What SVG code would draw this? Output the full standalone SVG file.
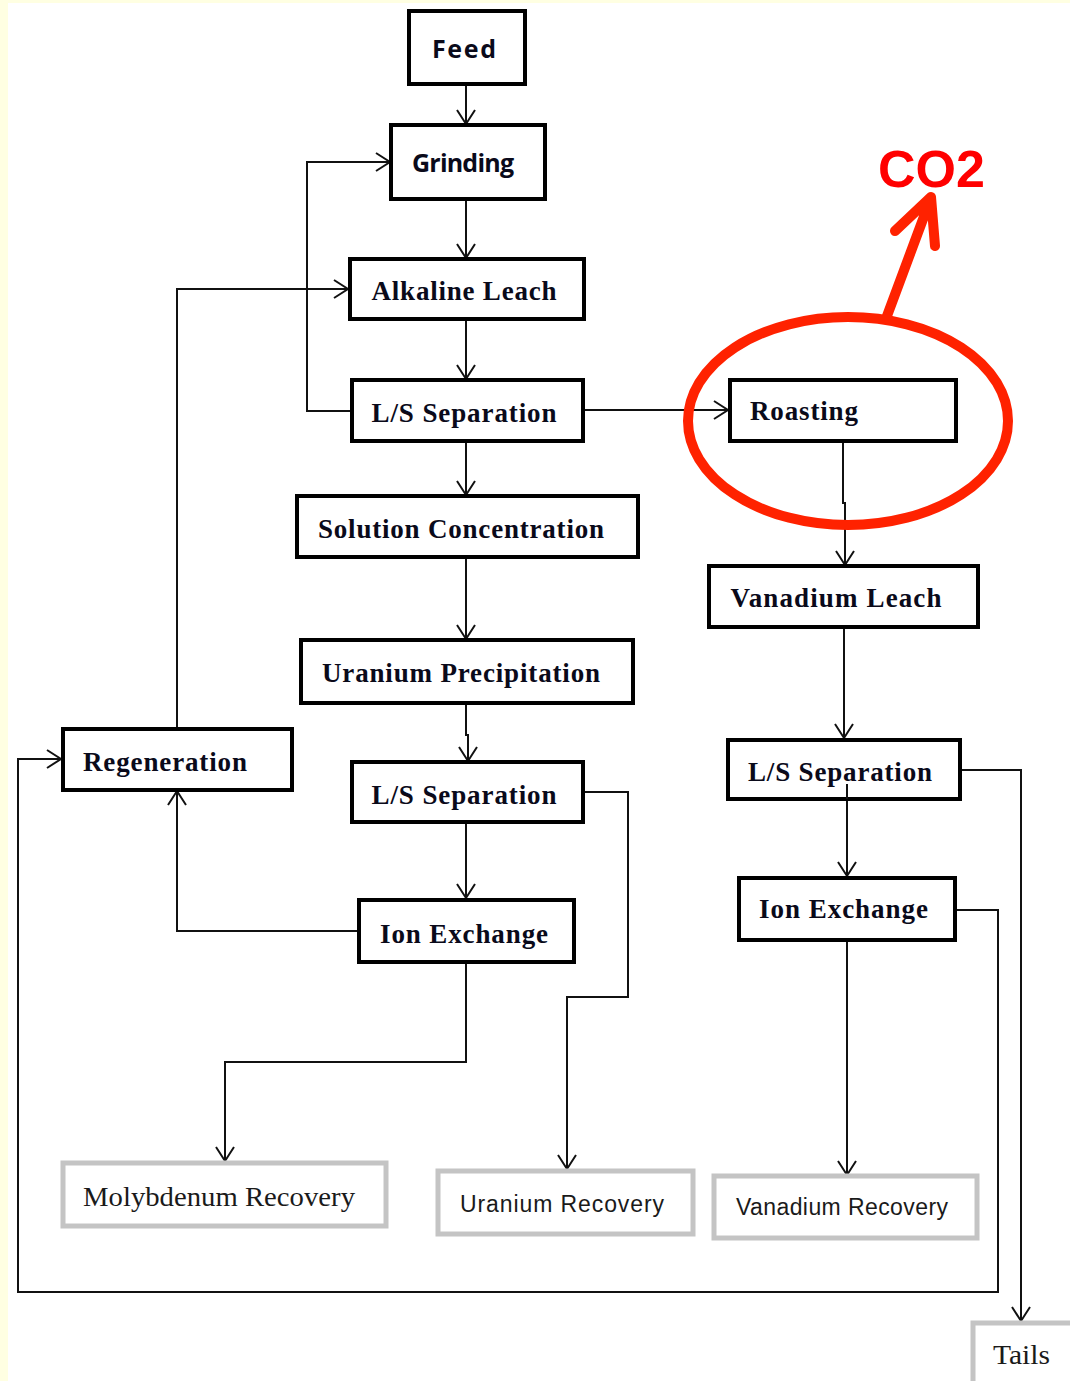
<svg xmlns="http://www.w3.org/2000/svg" width="1070" height="1381" viewBox="0 0 1070 1381">
<style>
.box{fill:#fff;stroke:#000;stroke-width:4}
.rec{fill:#fff;stroke:#c4c4c4;stroke-width:5}
.sb{font-family:"Open Sans","Liberation Sans",sans-serif;font-weight:bold;font-size:25px;fill:#0a0a1a}
.tb{font-family:"Liberation Serif",serif;font-weight:bold;font-size:27px;fill:#0a0a1a}
.tr{font-family:"Liberation Serif",serif;font-size:28px;fill:#1a1a1a}
.sr{font-family:"Liberation Sans",sans-serif;font-size:23px;fill:#1a1a1a}
.ln{fill:none;stroke:#111;stroke-width:2}
</style>
<defs>
<marker id="ah" markerUnits="userSpaceOnUse" markerWidth="16" markerHeight="20" refX="14" refY="9" orient="auto" overflow="visible">
<path d="M0,0 L14,9 L0,18" fill="none" stroke="#111" stroke-width="2"/>
</marker>
</defs>
<rect x="0" y="0" width="1070" height="1381" fill="#ffffe2"/>
<rect x="8" y="3" width="1062" height="1378" fill="#fff"/>

<g id="connectors">
<path class="ln" marker-end="url(#ah)" d="M466,84 V124"/>
<path class="ln" marker-end="url(#ah)" d="M466,199 V258"/>
<path class="ln" marker-end="url(#ah)" d="M466,319 V379"/>
<path class="ln" marker-end="url(#ah)" d="M351,411 H307 V162 H390"/>
<path class="ln" marker-end="url(#ah)" d="M177,729 V289 H348"/>
<path class="ln" marker-end="url(#ah)" d="M583,410 H728"/>
<path class="ln" marker-end="url(#ah)" d="M466,441 V495"/>
<path class="ln" marker-end="url(#ah)" d="M466,557 V639"/>
<path class="ln" marker-end="url(#ah)" d="M466,703 V735 H468 V761"/>
<path class="ln" marker-end="url(#ah)" d="M466,822 V898"/>
<path class="ln" marker-end="url(#ah)" d="M359,931 H177 V791"/>
<path class="ln" marker-end="url(#ah)" d="M583,792 H628 V997 H567 V1169"/>
<path class="ln" marker-end="url(#ah)" d="M466,962 V1062 H225 V1161"/>
<path class="ln" marker-end="url(#ah)" d="M843,441 V503 H845 V565"/>
<path class="ln" marker-end="url(#ah)" d="M844,627 V738"/>
<path class="ln" marker-end="url(#ah)" d="M847,801 V876"/>
<path class="ln" marker-end="url(#ah)" d="M960,770 H1021 V1321"/>
<path class="ln" marker-end="url(#ah)" d="M954,910 H998 V1292 H18 V759 H61"/>
<path class="ln" marker-end="url(#ah)" d="M847,940 V1175"/>
</g>

<g id="feed"><rect class="box" x="409" y="11" width="116" height="73"/><text class="sb" x="464" y="58" text-anchor="middle" textLength="64">Feed</text></g>
<g id="grinding"><rect class="box" x="391" y="125" width="154" height="74"/><text class="sb" x="463" y="172" text-anchor="middle" textLength="102">Grinding</text></g>
<g id="alkaline-leach"><rect class="box" x="350" y="259" width="234" height="60"/><text class="tb" x="464" y="300" text-anchor="middle" textLength="185">Alkaline Leach</text></g>
<g id="ls-separation-1"><rect class="box" x="352" y="380" width="231" height="61"/><text class="tb" x="464" y="422" text-anchor="middle" textLength="185">L/S Separation</text></g>
<g id="roasting"><rect class="box" x="730" y="380" width="226" height="61"/><text class="tb" x="750" y="420" textLength="108">Roasting</text></g>
<g id="solution-concentration"><rect class="box" x="297" y="496" width="341" height="61"/><text class="tb" x="461" y="538" text-anchor="middle" textLength="286">Solution Concentration</text></g>
<g id="vanadium-leach"><rect class="box" x="709" y="566" width="269" height="61"/><text class="tb" x="836" y="607" text-anchor="middle" textLength="211">Vanadium Leach</text></g>
<g id="uranium-precipitation"><rect class="box" x="301" y="640" width="332" height="63"/><text class="tb" x="461" y="682" text-anchor="middle" textLength="278">Uranium Precipitation</text></g>
<g id="regeneration"><rect class="box" x="63" y="729" width="229" height="61"/><text class="tb" x="83" y="771" textLength="164">Regeneration</text></g>
<g id="ls-separation-2"><rect class="box" x="352" y="762" width="231" height="60"/><text class="tb" x="464" y="804" text-anchor="middle" textLength="185">L/S Separation</text></g>
<g id="ls-separation-3"><rect class="box" x="728" y="740" width="232" height="59"/><text class="tb" x="748" y="781" textLength="184">L/S Separation</text><path class="ln" d="M847,784 V799"/></g>
<g id="ion-exchange-1"><rect class="box" x="359" y="900" width="215" height="62"/><text class="tb" x="380" y="943" textLength="168">Ion Exchange</text></g>
<g id="ion-exchange-2"><rect class="box" x="739" y="878" width="216" height="62"/><text class="tb" x="759" y="918" textLength="169">Ion Exchange</text></g>
<g id="molybdenum-recovery"><rect class="rec" x="63" y="1163" width="323" height="63"/><text class="tr" x="83" y="1206" textLength="272" lengthAdjust="spacingAndGlyphs">Molybdenum Recovery</text></g>
<g id="uranium-recovery"><rect class="rec" x="438" y="1171" width="255" height="63"/><text class="sr" x="460" y="1212" textLength="204">Uranium Recovery</text></g>
<g id="vanadium-recovery"><rect class="rec" x="714" y="1176" width="263" height="62"/><text class="sr" x="736" y="1215" textLength="212">Vanadium Recovery</text></g>
<g id="tails"><rect class="rec" x="973" y="1323" width="110" height="80"/><text class="tr" x="993" y="1364" textLength="57" lengthAdjust="spacingAndGlyphs">Tails</text></g>

<g id="co2-annotation">
<ellipse cx="848" cy="421" rx="160" ry="104" fill="none" stroke="#ff2200" stroke-width="10"/>
<path d="M887,316 L929,203 M895,231 L931,197 L935,246" fill="none" stroke="#ff2200" stroke-width="10" stroke-linecap="round" stroke-linejoin="round"/>
<text x="878" y="187" font-family="Liberation Sans, sans-serif" font-weight="bold" font-size="52" fill="#ff0000" textLength="107">CO2</text>
</g>
</svg>
